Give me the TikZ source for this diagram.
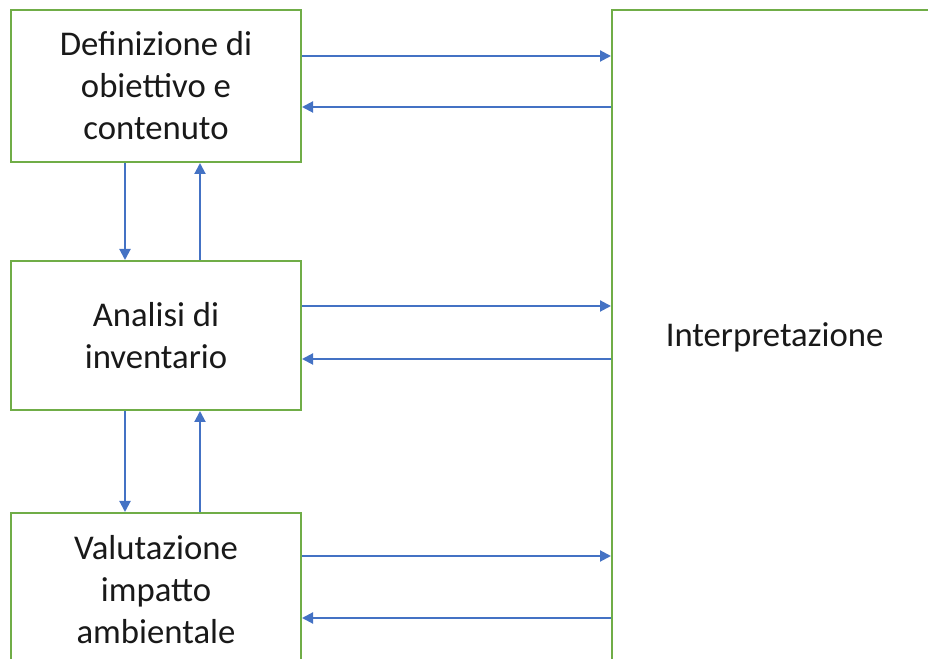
\documentclass[tikz,border=0pt]{standalone}
\usepackage{fontspec}
\setmainfont{Carlito}
\usetikzlibrary{arrows.meta}
\definecolor{boxgreen}{HTML}{70AD47}
\definecolor{arrblue}{HTML}{4472C4}
\begin{document}
\begin{tikzpicture}[x=1pt,y=1pt,
  lbl/.style={font=\fontsize{34.7}{42}\selectfont,text=black!90},
  box/.style={lbl,draw=boxgreen,line width=2pt,fill=white,minimum width=290pt,inner sep=0pt,align=center},
  arr/.style={draw=arrblue,line width=2pt,-{Triangle[length=11pt,width=11pt]}}]
\useasboundingbox (0,0) rectangle (928,658);
\clip (0,0) rectangle (928,658);
\node[box,minimum height=152pt] (b1) at (156,572) {Definizione di\\obiettivo e\\contenuto};
\node[box,minimum height=149pt] (b2) at (156,322.5) {Analisi di\\inventario};
\node[box,minimum height=154pt] (b3) at (156,68) {Valutazione\\impatto\\ambientale};
\node[box,minimum width=325pt,minimum height=654pt] (R) at (774.5,321) {};
\node[lbl] (Rt) at (774.5,321) {Interpretazione};
% horizontal arrows
\draw[arr] (b1.east |- 0,602) -- (R.west |- 0,602);
\draw[arr] (R.west |- 0,551) -- (b1.east |- 0,551);
\draw[arr] (b2.east |- 0,352) -- (R.west |- 0,352);
\draw[arr] (R.west |- 0,299) -- (b2.east |- 0,299);
\draw[arr] (b3.east |- 0,102) -- (R.west |- 0,102);
\draw[arr] (R.west |- 0,40) -- (b3.east |- 0,40);
% vertical arrows
\draw[arr] (b1.south -| 125,0) -- (b2.north -| 125,0);
\draw[arr] (b2.north -| 200,0) -- (b1.south -| 200,0);
\draw[arr] (b2.south -| 125,0) -- (b3.north -| 125,0);
\draw[arr] (b3.north -| 200,0) -- (b2.south -| 200,0);
\end{tikzpicture}
\end{document}
